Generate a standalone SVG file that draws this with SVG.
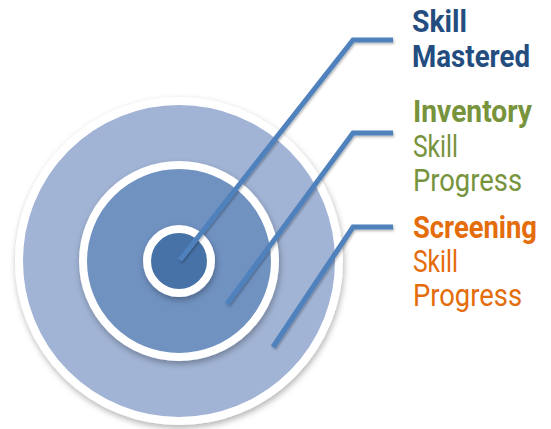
<svg xmlns="http://www.w3.org/2000/svg" width="551" height="429" viewBox="0 0 551 429">
<style>
.lbl{font-family:Roboto,"Liberation Sans",sans-serif;font-size:32px}
.b{font-weight:bold}
.conn{fill:none;stroke:#4F81BD;stroke-width:5;stroke-linejoin:miter;filter:url(#ls)}
.ring{stroke:#fff;filter:url(#sh)}
</style>
<defs>
<filter id="sh" x="-20%" y="-20%" width="140%" height="140%">
<feDropShadow dx="1" dy="3" stdDeviation="3" flood-color="#000" flood-opacity="0.3"/>
</filter>
<filter id="ls" x="-20%" y="-20%" width="140%" height="140%">
<feDropShadow dx="1" dy="1.5" stdDeviation="1" flood-color="#000" flood-opacity="0.3"/>
</filter>
</defs>
<g id="outer"><circle class="ring" cx="179" cy="261" r="160" fill="#A1B4D5" stroke-width="8"/></g>
<g id="middle"><circle class="ring" cx="179" cy="261" r="96" fill="#7092C1" stroke-width="8"/></g>
<g id="inner"><circle class="ring" cx="179" cy="261" r="32" fill="#4672A8" stroke-width="8"/></g>
<g id="connectors">
<polyline class="conn" points="180,260 353,40 393,40"/>
<polyline class="conn" points="227,304 353,133 393,133"/>
<polyline class="conn" points="273,347 353,227 393,227"/>
</g>
<g id="label-mastered" fill="#244D7F">
<text class="lbl b" x="412" y="32" textLength="55" lengthAdjust="spacingAndGlyphs">Skill</text>
<text class="lbl b" x="412" y="67" textLength="118" lengthAdjust="spacingAndGlyphs">Mastered</text>
</g>
<g id="label-inventory" fill="#77933C">
<text class="lbl b" x="413" y="122" textLength="119" lengthAdjust="spacingAndGlyphs">Inventory</text>
<text class="lbl" x="413" y="157" textLength="45" lengthAdjust="spacingAndGlyphs">Skill</text>
<text class="lbl" x="413" y="191" textLength="109" lengthAdjust="spacingAndGlyphs">Progress</text>
</g>
<g id="label-screening" fill="#E46C0A">
<text class="lbl b" x="413" y="238" textLength="124" lengthAdjust="spacingAndGlyphs">Screening</text>
<text class="lbl" x="413" y="272" textLength="45" lengthAdjust="spacingAndGlyphs">Skill</text>
<text class="lbl" x="413" y="306" textLength="109" lengthAdjust="spacingAndGlyphs">Progress</text>
</g>
</svg>
